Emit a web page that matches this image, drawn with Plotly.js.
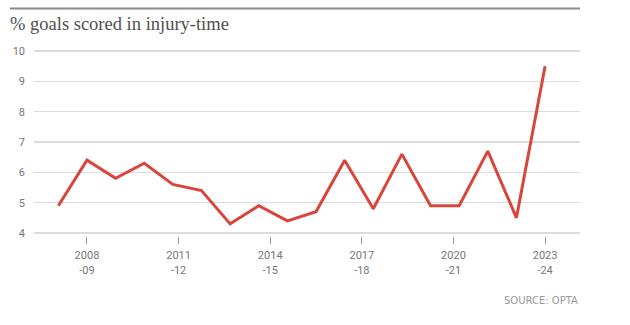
<!DOCTYPE html>
<html>
<head>
<meta charset="utf-8">
<script src="https://cdn.plot.ly/plotly-3.0.1.min.js"></script>
<style>html,body{margin:0;padding:0;background:#fff;}#chart{width:630px;height:325px;}</style>
</head>
<body>
<div id="chart"></div>
<script>
// Data
var seasons = ['2006-07','2007-08','2008-09','2009-10','2010-11','2011-12','2012-13','2013-14','2014-15',
               '2015-16','2016-17','2017-18','2018-19','2019-20','2020-21','2021-22','2022-23','2023-24'];
var pctInjuryTime = [4.9, 6.4, 5.8, 6.3, 5.6, 5.4, 4.3, 4.9, 4.4, 4.7, 6.4, 4.8, 6.6, 4.9, 4.9, 6.7, 4.5, 9.5];
var tickLabels = ['2008<br>-09','2011<br>-12','2014<br>-15','2017<br>-18','2020<br>-21','2023<br>-24'];
var tickPositions = [1, 4.2, 7.4, 10.6, 13.8, 17];
var yTicks = [4, 5, 6, 7, 8, 9, 10];

var xIdx = seasons.map(function(s, i){ return i; });

var W = 630, H = 325;
var L = 34, R = 50, T = 48, B = 89;
var plotH = H - T - B;
var plotW = W - L - R;

var trace = {
  x: xIdx,
  y: pctInjuryTime,
  text: seasons,
  type: 'scatter',
  mode: 'lines',
  line: {color: '#d8453b', width: 3},
  hoverinfo: 'text+y'
};

var layout = {
  width: W, height: H,
  margin: {l: L, r: R, t: T, b: B, pad: 0},
  paper_bgcolor: '#fff', plot_bgcolor: '#fff',
  showlegend: false,
  title: {
    text: '% goals scored in injury-time',
    x: 10 / W, xanchor: 'left', xref: 'container',
    y: 1 - 23.5 / H, yanchor: 'middle', yref: 'container',
    font: {family: 'Liberation Serif, serif', size: 18.5, color: '#505050'}
  },
  xaxis: {
    range: [-0.85, 18.22],
    tickmode: 'array', tickvals: tickPositions, ticktext: tickLabels,
    ticks: 'outside', ticklen: 7, tickwidth: 1, tickcolor: '#999',
    ticklabelstandoff: 2,
    showgrid: false, zeroline: false, showline: false,
    tickfont: {family: 'Roboto, sans-serif', size: 11, color: '#777'},
    fixedrange: true
  },
  yaxis: {
    range: [3.9, 10.1],
    tickmode: 'array', tickvals: yTicks,
    showgrid: true, gridcolor: '#dcdcdc', gridwidth: 1.5,
    zeroline: false, showline: false, ticks: '',
    ticklabelstandoff: 8,
    tickfont: {family: 'Roboto, sans-serif', size: 11, color: '#777'},
    fixedrange: true
  },
  shapes: [{
    type: 'line', xref: 'paper', yref: 'paper',
    x0: (10 - L) / plotW, x1: 1,
    y0: (H - B - 8.5) / plotH, y1: (H - B - 8.5) / plotH,
    line: {color: '#8a8a8a', width: 2}
  }],
  annotations: [{
    text: 'SOURCE: OPTA',
    xref: 'paper', yref: 'paper',
    x: 1, xanchor: 'right',
    y: ((H - B) - 300) / plotH, yanchor: 'middle',
    showarrow: false,
    font: {family: 'DejaVu Sans, sans-serif', size: 10, color: '#999'}
  }]
};

Plotly.newPlot('chart', [trace], layout, {displayModeBar: false, staticPlot: true});
</script>
</body>
</html>
